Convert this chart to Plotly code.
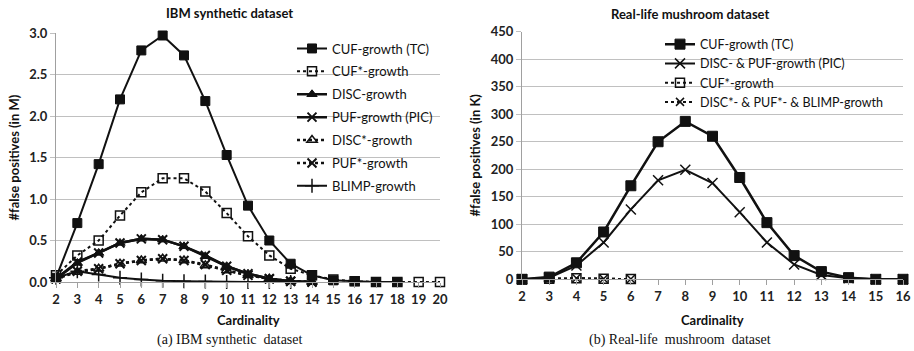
import plotly.graph_objects as go

# ---------------- data ----------------
x_ibm = list(range(2, 21))
cuf_tc_ibm = [0.05, 0.71, 1.42, 2.20, 2.79, 2.97, 2.73, 2.18, 1.53, 0.92, 0.50, 0.22, 0.08, 0.02, 0.01, 0.0, 0.0]
cuf_star_ibm = [0.08, 0.32, 0.50, 0.80, 1.08, 1.25, 1.25, 1.09, 0.83, 0.55, 0.32, 0.16, 0.08, 0.03, 0.01, 0.0, 0.0, 0.0, 0.0]
disc_ibm = [0.04, 0.23, 0.35, 0.47, 0.52, 0.51, 0.43, 0.31, 0.19, 0.10, 0.04, 0.01, 0.0]
puf_ibm = [0.04, 0.24, 0.35, 0.47, 0.52, 0.51, 0.43, 0.32, 0.19, 0.10, 0.04, 0.01, 0.0]
disc_star_ibm = [0.04, 0.12, 0.16, 0.22, 0.26, 0.28, 0.26, 0.20, 0.14, 0.08, 0.04, 0.01, 0.0]
puf_star_ibm = [0.04, 0.13, 0.16, 0.22, 0.26, 0.28, 0.26, 0.21, 0.14, 0.08, 0.04, 0.01, 0.0]
blimp_ibm = [0.05, 0.13, 0.09, 0.05, 0.03, 0.015, 0.01, 0.005, 0.0, 0.0, 0.0, 0.0]

x_mush = list(range(2, 17))
cuf_tc_mush = [0, 4, 30, 86, 170, 250, 287, 260, 185, 103, 43, 14, 3, 0, 0]
pic_mush = [0, 3, 25, 67, 127, 180, 199, 175, 122, 67, 27, 8, 2, 0, 0]
cuf_star_mush = [0, 1, 2, 1, 0.5]
disc_star_mush = [0, 1, 2, 1, 0.5]

left_names = ["CUF-growth (TC)", "CUF*-growth", "DISC-growth", "PUF-growth (PIC)",
              "DISC*-growth", "PUF*-growth", "BLIMP-growth"]
right_names = ["CUF-growth (TC)", "DISC- & PUF-growth (PIC)", "CUF*-growth",
               "DISC*- & PUF*- & BLIMP-growth"]

FONT = "Lato, Open Sans, sans-serif"
BLACK = "#111111"
GRID = "#c0c0c0"

W, H = 914, 351


def px(s):
    return s / W


def py(s):
    return 1 - s / H


fig = go.Figure()


def add(xv, yv, name, symbol, dash, lw, msize, axis, legend, mlw=1.5, order=0):
    fig.add_trace(go.Scatter(
        x=xv[:len(yv)], y=yv, name=name, mode="lines+markers",
        line=dict(color=BLACK, width=lw, dash=dash),
        marker=dict(symbol=symbol, size=msize, color=BLACK,
                    line=dict(color=BLACK, width=mlw)),
        xaxis="x" + axis if axis != "1" else "x",
        yaxis="y" + axis if axis != "1" else "y",
        legend=legend, legendgroup=name + legend, legendrank=order,
        cliponaxis=False,
    ))


# left panel
add(x_ibm, blimp_ibm, left_names[6], "cross-thin-open", "solid", 2, 10, "1", "legend", 1.5, 7)
add(x_ibm, puf_star_ibm, left_names[5], "x-thin-open", "dot", 2.5, 9, "1", "legend", 2, 6)
add(x_ibm, disc_star_ibm, left_names[4], "triangle-up-open", "dot", 2.5, 9, "1", "legend", 1.5, 5)
add(x_ibm, puf_ibm, left_names[3], "x-thin-open", "solid", 2.5, 9, "1", "legend", 2, 4)
add(x_ibm, disc_ibm, left_names[2], "triangle-up", "solid", 2.5, 9, "1", "legend", 1, 3)
add(x_ibm, cuf_star_ibm, left_names[1], "square-open", "dot", 2, 9, "1", "legend", 1.5, 2)
add(x_ibm, cuf_tc_ibm, left_names[0], "square", "solid", 2, 9, "1", "legend", 1, 1)

# right panel
add(x_mush, disc_star_mush, right_names[3], "x-thin-open", "dot", 2, 8, "2", "legend2", 1.5, 4)
add(x_mush, cuf_star_mush, right_names[2], "square-open", "dot", 2, 9, "2", "legend2", 1.5, 3)
add(x_mush, pic_mush, right_names[1], "x-thin-open", "solid", 2, 10, "2", "legend2", 1.5, 2)
add(x_mush, cuf_tc_mush, right_names[0], "square", "solid", 2.5, 10, "2", "legend2", 1, 1)

xl0, xl1 = px(56), px(440)
yl0, yl1 = py(282), py(33)
xr0, xr1 = px(522), px(903)
yr0, yr1 = py(279.3), py(31.7)

tickfont = dict(family=FONT, size=13, color="#222222", weight="bold")

common_x = dict(showgrid=False, showline=True, linecolor="#a0a0a0", linewidth=1,
                ticks="outside", ticklen=5, tickcolor="#a0a0a0", dtick=1,
                tickfont=tickfont, zeroline=False, fixedrange=True,
                automargin=False, ticklabeloverflow="allow")
common_y = dict(showgrid=True, gridcolor=GRID, gridwidth=1.2, showline=True,
                linecolor="#a0a0a0", ticks="outside", ticklen=5, tickcolor=GRID,
                tickfont=tickfont, zeroline=False, fixedrange=True,
                automargin=False, ticklabeloverflow="allow")

fig.update_layout(
    template="none",
    width=W, height=H, autosize=False,
    margin=dict(l=0, r=0, t=0, b=0, pad=0, autoexpand=False),
    paper_bgcolor="white", plot_bgcolor="white",
    font=dict(family=FONT, color=BLACK),
    hovermode=False,
    xaxis=dict(domain=[xl0, xl1], range=[2, 20], anchor="y", **common_x),
    yaxis=dict(domain=[yl0, yl1], range=[0, 3.0], dtick=0.5, tickformat=".1f",
               anchor="x", **common_y),
    xaxis2=dict(domain=[xr0, xr1], range=[2, 16], anchor="y2", **common_x),
    yaxis2=dict(domain=[yr0, yr1], range=[0, 450], dtick=50, anchor="x2", **common_y),
    legend=dict(x=px(292), y=py(33.5), xanchor="left", yanchor="top",
                bgcolor="rgba(255,255,255,0)", font=dict(family=FONT, size=13, color=BLACK),
                tracegroupgap=3, itemwidth=30, traceorder="grouped"),
    legend2=dict(x=px(660), y=py(29.5), xanchor="left", yanchor="top",
                 bgcolor="rgba(255,255,255,0)", font=dict(family=FONT, size=12.5, color=BLACK),
                 tracegroupgap=0, itemwidth=30, traceorder="grouped"),
    showlegend=True,
    shapes=[
        dict(type="rect", xref="paper", yref="paper", layer="between",
             x0=px(295), x1=px(441), y0=py(195), y1=py(36),
             fillcolor="white", line=dict(width=0)),
        dict(type="rect", xref="paper", yref="paper", layer="between",
             x0=px(662), x1=px(904), y0=py(105), y1=py(35),
             fillcolor="white", line=dict(width=0)),
    ],
)

ann = []
ann.append(dict(text="<b>IBM synthetic dataset</b>", x=px(230), y=py(13),
                font=dict(family=FONT, size=13)))
ann.append(dict(text="<b>Real-life mushroom dataset</b>", x=px(690), y=py(14),
                font=dict(family=FONT, size=13)))
ann.append(dict(text="<b>Cardinality</b>", x=(xl0 + xl1) / 2, y=py(320),
                font=dict(family=FONT, size=13)))
ann.append(dict(text="<b>Cardinality</b>", x=(xr0 + xr1) / 2, y=py(320),
                font=dict(family=FONT, size=13)))
ann.append(dict(text="<b>#false positives (in M)</b>", x=px(13), y=(yl0 + yl1) / 2,
                textangle=-90, font=dict(family=FONT, size=13)))
ann.append(dict(text="<b>#false positives (in K)</b>", x=px(474), y=(yr0 + yr1) / 2,
                textangle=-90, font=dict(family=FONT, size=13)))
ann.append(dict(text="(a) IBM synthetic  dataset", x=px(230), y=py(340),
                font=dict(family="Liberation Serif, serif", size=14)))
ann.append(dict(text="(b) Real-life  mushroom  dataset", x=px(680), y=py(340),
                font=dict(family="Liberation Serif, serif", size=14)))
for a in ann:
    a.update(xref="paper", yref="paper", showarrow=False, xanchor="center", yanchor="middle")
fig.update_layout(annotations=ann)

# remove the browser's default 8px page margin so the figure sits at the window corner
fig.write_html("out.html",
               config={"displayModeBar": False, "staticPlot": False},
               post_script="document.body.style.margin='0px';document.body.style.overflow='hidden';")
